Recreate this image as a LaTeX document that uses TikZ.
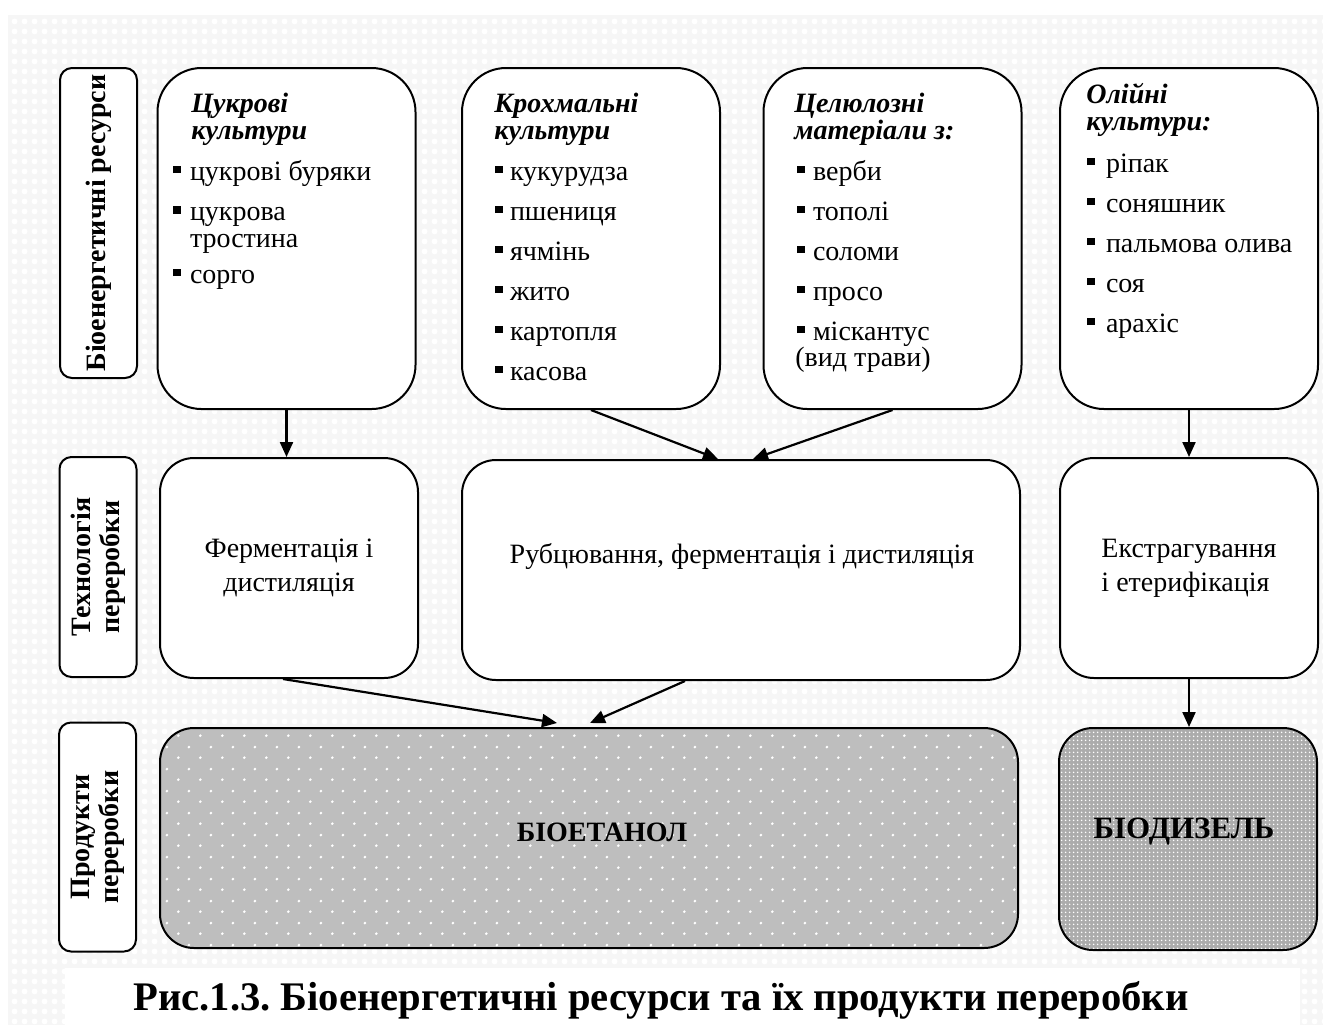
\documentclass[tikz,border=0pt]{standalone}
\usepackage{fontspec}
\setmainfont{Liberation Serif}
\usetikzlibrary{arrows.meta,patterns,positioning}

\definecolor{ethgray}{RGB}{190,190,190}
\definecolor{dslgray}{RGB}{172,172,172}

% dot patterns for the product boxes and the page
\pgfdeclarepatternformonly{bigdots}{\pgfqpoint{0pt}{0pt}}{\pgfqpoint{10.8pt}{10.8pt}}{\pgfqpoint{10.8pt}{10.8pt}}{%
  \pgfpathcircle{\pgfqpoint{2.7pt}{2.7pt}}{0.75pt}%
  \pgfpathcircle{\pgfqpoint{8.1pt}{8.1pt}}{0.75pt}%
  \pgfusepath{fill}}
\pgfdeclarepatternformonly{finedots}{\pgfqpoint{0pt}{0pt}}{\pgfqpoint{2pt}{2pt}}{\pgfqpoint{2pt}{2pt}}{%
  \pgfpathcircle{\pgfqpoint{1pt}{1pt}}{0.5pt}\pgfusepath{fill}}
\pgfdeclarepatternformonly{bgdots}{\pgfqpoint{0pt}{0pt}}{\pgfqpoint{5pt}{5pt}}{\pgfqpoint{5pt}{5pt}}{%
  \pgfpathcircle{\pgfqpoint{2.5pt}{2.5pt}}{1.6pt}\pgfusepath{fill}}

\newcommand\sqq[1][3.5pt]{\raisebox{3.4pt}{\rule{3.8pt}{3.8pt}}\hspace{#1}}
\newcommand\hstrut{\rule{0pt}{11pt}}
\frenchspacing

\begin{document}
\begin{tikzpicture}[x=0.5pt,y=-0.5pt,font=\fontsize{14}{13.5}\selectfont,
  lblbox/.style={draw,line width=1pt,fill=white,rounded corners=6pt,rotate=90,
    minimum height=38.5pt,align=center,inner sep=0pt,
    font=\bfseries\fontsize{14}{14.5}\selectfont},
  resbox/.style={draw,line width=1pt,fill=white,rounded corners=22pt,
    minimum width=129pt,minimum height=170.5pt,inner sep=0pt},
  techbox/.style={draw,line width=1pt,fill=white,rounded corners=17pt,
    minimum height=110pt,inner sep=0pt,font=\fontsize{14}{17}\selectfont},
  prodbox/.style={draw,line width=1pt,rounded corners=17pt,
    minimum height=110pt,inner sep=0pt},
  head/.style={anchor=north west,inner sep=0pt,align=left,
    font=\bfseries\itshape\fontsize{14}{13.5}\selectfont},
  item/.style={anchor=base west,inner sep=0pt},
  link/.style={line width=1.1pt,-{Triangle[length=7.5pt,width=6.5pt]}}]
\useasboundingbox (0,0) rectangle (1323,1025);
\fill[black!3.5] (8,15) rectangle (1323,1025);
\fill[pattern=bgdots,pattern color=white] (8,15) rectangle (1323,1025);

% row labels
\node[lblbox,minimum width=155pt] (resLbl) at (98.5,223) {Біоенергетичні ресурси};
\node[lblbox,minimum width=110pt] (techLbl) at (98,567) {Технологія\\переробки};
\node[lblbox,minimum width=114.5pt] (prodLbl) at (97.5,837) {Продукти\\переробки};

% resources
\node[resbox] (sugar) at (286.5,238.5) {};
\node[resbox] (starch) at (591,238.5) {};
\node[resbox] (cellul) at (892.5,238.5) {};
\node[resbox] (oil) at (1189,238.5) {};

\node[head] (sugarHd) at (191,90) {\hstrut Цукрові\\культури};
\node[item] (sugar-1) at (173,180) {\sqq[4.5pt]цукрові буряки};
\node[item,anchor=north west,align=left] (sugar-2) at (173,198) {\hstrut\sqq[4.5pt]цукрова\\\hspace*{8.3pt}тростина};
\node[item] (sugar-3) at (173,283) {\sqq[4.5pt]сорго};

\node[head] (starchHd) at (494,90) {\hstrut Крохмальні\\культури};
\foreach \t [count=\i from 0] in {кукурудза,пшениця,ячмінь,жито,картопля,касова}
  \node[item] (starch-\i) at (495,{180+40*\i}) {\sqq\t};

\node[head] (cellHd) at (794,90) {\hstrut Целюлозні\\матеріали з:};
\foreach \t [count=\i from 0] in {верби,тополі,соломи,просо,міскантус}
  \node[item] (cell-\i) at (797,{180+40*\i}) {\sqq[4pt]\t};
\node[item] (cell-note) at (795,366) {(вид трави)};

\node[head] (oilHd) at (1086,81) {\hstrut Олійні\\культури:};
\foreach \t [count=\i from 0] in {ріпак,соняшник,пальмова олива,соя,арахіс}
  \node[item] (oil-\i) at (1087,{172+40*\i}) {\sqq[5.5pt]\t};

% technologies
\node[techbox,minimum width=129pt,align=center] (ferm) at (289,568) {Ферментація і\\дистиляція};
\node[techbox,minimum width=279pt] (rub) at (741,570) {};
\node[inner sep=0pt] (rubTxt) at (742,556) {Рубцювання, ферментація і дистиляція};
\node[techbox,minimum width=129pt,align=left] (extr) at (1189,568) {Екстрагування\\і етерифікація};

% products
\node[prodbox,minimum width=429pt,preaction={fill=ethgray},pattern=bigdots,pattern color=white] (bioeth) at (589,838) {};
\node[inner sep=0pt,font=\bfseries\fontsize{14}{16}\selectfont] (bioethTxt) at (602,832) {БІОЕТАНОЛ};
\node[prodbox,minimum width=129pt,minimum height=111pt,preaction={fill=dslgray},pattern=finedots,pattern color=white] (biodsl) at (1188,839) {};
\node[inner sep=0pt,font=\bfseries\fontsize{15.5}{18}\selectfont] (biodslTxt) at (1184,832) {БІОДИЗЕЛЬ};

% arrows
\draw[link] (sugar.south) -- (sugar.south |- ferm.north);
\draw[link] (starch.south) -- ([xshift=-11.5pt]rub.north);
\draw[link] (cellul.south) -- ([xshift=6pt]rub.north);
\draw[link] (oil.south) -- (oil.south |- extr.north);
\draw[link] ([xshift=-3pt]ferm.south) -- ([xshift=-16pt,yshift=2pt]bioeth.north);
\draw[link] ([xshift=-28pt]rub.south) -- ([xshift=0.5pt,yshift=2pt]bioeth.north);
\draw[link] (extr.south) -- (extr.south |- biodsl.north);

% caption
\fill[white] (65,968) rectangle (1300,1025);
\node[inner sep=0pt,font=\bfseries\fontsize{20.3}{22}\selectfont] (caption) at (661,1000) {Рис.1.3. Біоенергетичні ресурси та їх продукти переробки};
\end{tikzpicture}
\end{document}
